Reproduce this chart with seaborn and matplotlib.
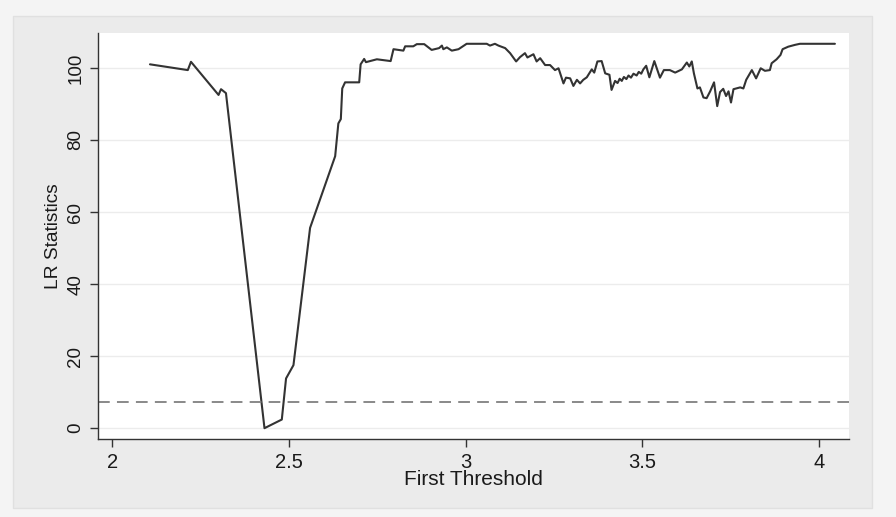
import matplotlib
matplotlib.use("Agg")
import matplotlib.pyplot as plt
import seaborn as sns
import pandas as pd
from matplotlib.patches import Rectangle

# threshold grid (x) and LR statistic (y)
threshold = [2.107, 2.214, 2.223, 2.301, 2.308, 2.322, 2.431, 2.480, 2.492, 2.513,
             2.560, 2.631, 2.640, 2.647, 2.651, 2.659, 2.699, 2.703, 2.713, 2.718,
             2.749, 2.788, 2.796, 2.824, 2.829, 2.852, 2.862, 2.883, 2.904, 2.925,
             2.933, 2.937, 2.947, 2.961, 2.980, 3.003, 3.060, 3.069, 3.083, 3.093,
             3.112, 3.126, 3.143, 3.154, 3.168, 3.175, 3.192, 3.201, 3.211, 3.225,
             3.239, 3.253, 3.263, 3.269, 3.277, 3.284, 3.296, 3.305, 3.315, 3.324,
             3.333, 3.343, 3.357, 3.364, 3.373, 3.385, 3.395, 3.407, 3.413, 3.423,
             3.430, 3.436, 3.442, 3.448, 3.455, 3.461, 3.468, 3.475, 3.484, 3.490,
             3.497, 3.503, 3.511, 3.520, 3.534, 3.550, 3.561, 3.578, 3.593, 3.612,
             3.626, 3.633, 3.640, 3.646, 3.656, 3.663, 3.673, 3.682, 3.692, 3.703,
             3.712, 3.720, 3.729, 3.737, 3.744, 3.751, 3.758, 3.777, 3.786, 3.794,
             3.810, 3.822, 3.835, 3.847, 3.861, 3.866, 3.880, 3.891, 3.897, 3.913,
             3.932, 3.946, 4.045]
lr_stat = [101.0, 99.4, 101.7, 92.5, 94.1, 93.0, 0.0, 2.4, 13.8, 17.5,
           55.6, 75.5, 84.6, 85.8, 94.3, 96.0, 96.0, 101.0, 102.5, 101.6,
           102.4, 101.9, 105.2, 104.8, 106.0, 106.0, 106.6, 106.6, 105.0, 105.5,
           106.2, 105.2, 105.7, 104.8, 105.2, 106.7, 106.7, 106.2, 106.7, 106.2,
           105.5, 104.1, 101.8, 103.0, 104.1, 102.9, 103.8, 101.8, 102.7, 100.8,
           100.8, 99.4, 99.9, 98.1, 95.7, 97.3, 97.1, 95.0, 96.7, 95.7,
           96.7, 97.4, 99.6, 98.7, 101.8, 101.9, 98.5, 98.1, 93.9, 96.4,
           95.8, 97.0, 96.4, 97.5, 96.9, 97.9, 97.3, 98.4, 97.9, 98.9,
           98.4, 99.6, 100.6, 97.4, 101.9, 97.3, 99.4, 99.4, 98.7, 99.6,
           101.5, 100.4, 101.8, 98.5, 94.3, 94.6, 91.8, 91.6, 93.5, 96.0,
           89.4, 93.3, 94.2, 92.2, 93.5, 90.4, 94.1, 94.6, 94.3, 96.7,
           99.4, 97.1, 99.9, 99.2, 99.4, 101.3, 102.4, 103.6, 105.2, 105.9,
           106.4, 106.7, 106.7]
crit_value = 7.35  # 95% critical value

x_ticks = [2, 2.5, 3, 3.5, 4]
x_tick_labels = ["2", "2.5", "3", "3.5", "4"]
y_ticks = [0, 20, 40, 60, 80, 100]

df = pd.DataFrame({"threshold": threshold, "lr": lr_stat})

sns.set_style("white")
plt.rcParams["font.family"] = ["Liberation Sans", "DejaVu Sans"]

fig = plt.figure(figsize=(8.96, 5.17), dpi=100, facecolor="#f4f4f4")
# Stata-like grey graph region (behind the axes)
fig.add_artist(Rectangle((13 / 896, 1 - 508 / 517), 859 / 896, 492 / 517,
                         transform=fig.transFigure, facecolor="#ebebeb",
                         edgecolor="#e0e0e0", linewidth=1.0, zorder=-10))
ax = fig.add_axes([0.1094, 0.1509, 0.8382, 0.7853])
ax.set_zorder(1)
ax.set_facecolor("white")

for yv in y_ticks:
    ax.axhline(yv, color="#ececec", linewidth=1.0, zorder=0)

sns.lineplot(data=df, x="threshold", y="lr", ax=ax, color="#333333",
             linewidth=1.5, estimator=None, sort=False)
ax.axhline(crit_value, color="#808080", linewidth=1.3, linestyle=(0, (6.5, 4.0)))

ax.set_xlim(1.96, 4.085)
ax.set_ylim(-3.0, 109.7)
ax.set_xticks(x_ticks)
ax.set_xticklabels(x_tick_labels)
ax.set_yticks(y_ticks)
ax.set_yticklabels([str(v) for v in y_ticks], rotation=90, va="center")

ax.tick_params(axis="both", direction="out", length=6, width=1.0,
               bottom=True, left=True, color="#333333", labelcolor="#1a1a1a")
ax.tick_params(axis="x", pad=4, labelsize=14.5)
ax.tick_params(axis="y", pad=4, labelsize=13.5)

for side in ["top", "right"]:
    ax.spines[side].set_visible(False)
for side in ["left", "bottom"]:
    ax.spines[side].set_color("#333333")
    ax.spines[side].set_linewidth(1.0)

ax.set_xlabel("First Threshold", fontsize=15, color="#1a1a1a", labelpad=-1)
ax.set_ylabel("LR Statistics", fontsize=13.8, color="#1a1a1a", labelpad=4)

fig.savefig("out.png", dpi=100, facecolor=fig.get_facecolor())
